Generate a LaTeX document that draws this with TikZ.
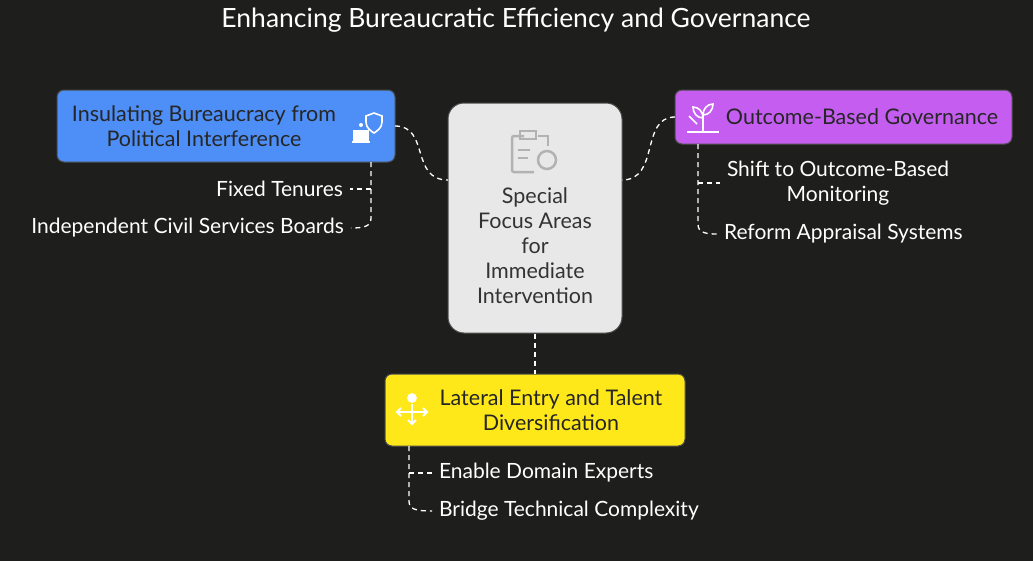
\documentclass[tikz,border=0pt]{standalone}
\usepackage{fontspec}
\setmainfont{Lato}
\begin{document}
\begin{tikzpicture}[x=1pt,y=-1pt]
\definecolor{bg}{HTML}{1E1F1C}
\definecolor{cgray}{HTML}{E8E8E8}
\definecolor{cblue}{HTML}{4D8EF7}
\definecolor{cpurple}{HTML}{C45DF0}
\definecolor{cyellow}{HTML}{FFE81A}
\tikzset{
 box/.style={draw=black!70,line width=1pt,rounded corners=7pt,inner sep=0pt},
 lbl/.style={text=white,font=\fontsize{21}{25}\selectfont,inner sep=2pt,outer sep=5pt},
 dl/.style={draw=white,line width=1.3pt,dash pattern=on 5pt off 4pt},
 btxt/.style={font=\fontsize{21.5}{25}\selectfont,align=center}
}
\useasboundingbox (0,0) rectangle (1033,560);
\fill[bg] (-3,-3) rectangle (1036,563);
\node[text=white,font=\fontsize{26.5}{30}\selectfont] (title) at (516,20) {Enhancing Bureaucratic Efficiency and Governance};
% boxes
\node[box,fill=cgray,minimum width=174pt,minimum height=230pt,rounded corners=16pt] (c) at (535,218) {};
\node[btxt,text=black!80] (ct) at (535,246) {Special\\Focus Areas\\for\\Immediate\\Intervention};
\node[box,fill=cblue,minimum width=338pt,minimum height=72pt] (b) at (226,126) {};
\node[btxt,text=black!85] at (204,126) {Insulating Bureaucracy from\\Political Interference};
\node[box,fill=cpurple,minimum width=337pt,minimum height=54pt] (p) at (843.5,117) {};
\node[btxt,text=black!85] at (862,117) {Outcome-Based Governance};
\node[box,fill=cyellow,minimum width=300pt,minimum height=72pt] (y) at (535,410) {};
\node[btxt,text=black!85] at (551,410) {Lateral Entry and Talent\\Diversification};
% icons
\begin{scope}[white,line width=1.6pt]
 \draw[gray!60,line width=2.5pt,rounded corners=2pt] (524,136) -- (512,136) -- (512,172) -- (534,172);
 \draw[gray!60,line width=2.5pt] (520,131) rectangle (536,139);
 \draw[gray!60,line width=2.5pt] (538,136) -- (548,136) -- (548,146);
 \draw[gray!60,line width=2.5pt] (518,150)--(530,150) (518,158)--(528,158);
 \draw[gray!60,line width=2.5pt] (547,160) circle (9pt);
 \draw (374,113) -- (382,116) -- (382,122) .. controls (382,128) and (377,131) .. (374,133) .. controls (371,131) and (366,128) .. (366,122) -- (366,116) -- cycle;
 \fill (361,125) circle (2pt);
 \draw[fill=white] (354,131) rectangle (368,140);
 \fill (352,141) rectangle (370,143);
 \draw (687,132) -- (719,132);
 \draw (703,132) -- (703,112);
 \draw (703,118) .. controls (697,118) and (693,113) .. (693,107) .. controls (699,107) and (703,112) .. (703,118);
 \draw (703,115) .. controls (709,115) and (713,110) .. (713,104) .. controls (707,104) and (703,109) .. (703,115);
 \draw (689,116) -- (697,124);
 \draw[line width=1.8pt] (398,412) -- (426,412) (412,404) -- (412,424);
 \draw[line width=1.8pt] (401,408)--(397,412)--(401,416) (423,408)--(427,412)--(423,416) (408,420)--(412,424)--(416,420);
 \draw[fill=white] (412,398) circle (4pt);
\end{scope}
% main connectors
\draw[dl] (395,126) .. controls (430,126) and (410,180) .. (448,180);
\draw[dl] (675,117) .. controls (640,117) and (660,180) .. (622,180);
\draw[dl] (c.south) -- (y.north);
% blue sub
\node[lbl,anchor=east] (l1) at (350,189) {Fixed Tenures};
\node[lbl,anchor=east] (l2) at (351,228) {Independent Civil Services Boards};
\draw[dl] (371,162) -- (371,218) .. controls (371,226) and (365,228) .. (l2.east);
\draw[dl] (371,189) -- (l1.east);
% purple sub
\node[lbl,anchor=west,align=center,font=\fontsize{21}{25}\selectfont] (l3) at (720,183) {Shift to Outcome-Based\\Monitoring};
\node[lbl,anchor=west] (l4) at (717,234) {Reform Appraisal Systems};
\draw[dl] (698,144) -- (698,224) .. controls (698,232) and (704,234) .. (l4.west);
\draw[dl] (698,183) -- (l3.west);
% yellow sub
\node[lbl,anchor=west] (l5) at (432,473) {Enable Domain Experts};
\node[lbl,anchor=west] (l6) at (432,511) {Bridge Technical Complexity};
\draw[dl] (409,446) -- (409,501) .. controls (409,509) and (415,511) .. (l6.west);
\draw[dl] (409,473) -- (l5.west);
\end{tikzpicture}
\end{document}
